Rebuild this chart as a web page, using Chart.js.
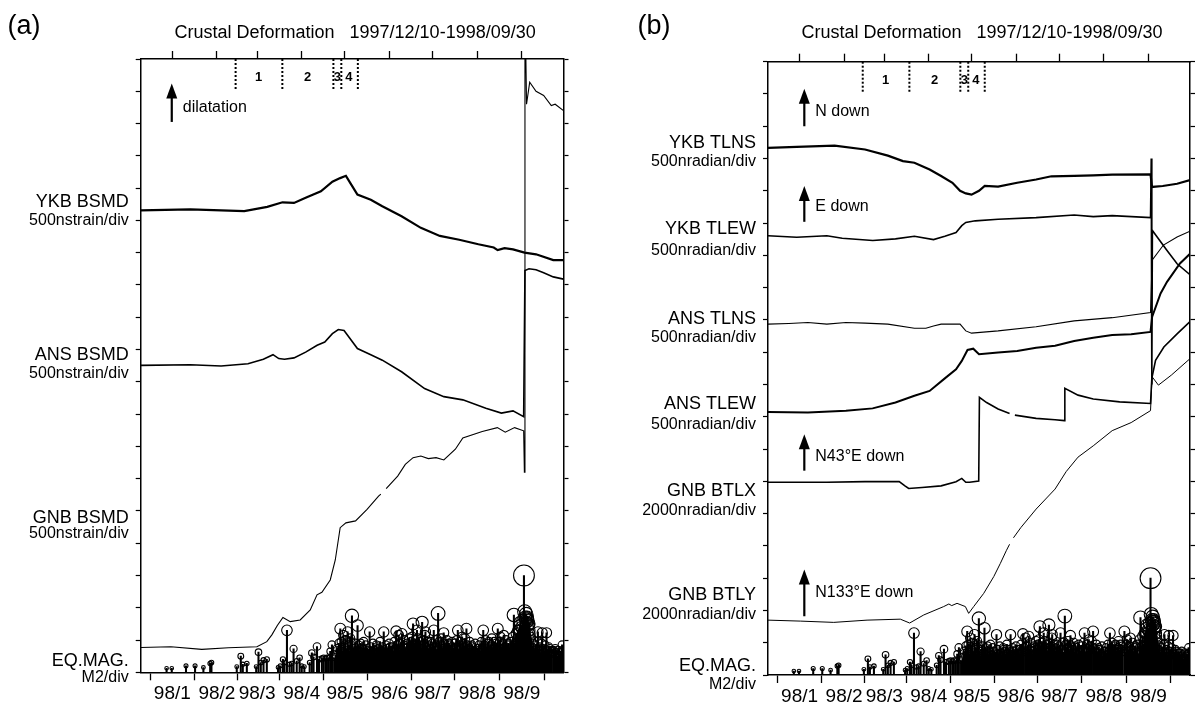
<!DOCTYPE html>
<html>
<head>
<meta charset="utf-8">
<script src="https://cdn.jsdelivr.net/npm/chart.js@4.4.1/dist/chart.umd.min.js"></script>
<style>
  html, body { margin: 0; padding: 0; background: #fff; }
  #wrap { position: relative; width: 1197px; height: 707px; overflow: hidden; }
  canvas { position: absolute; top: 0; }
</style>
</head>
<body>
<div id="wrap">
  <canvas id="chartA" width="598" height="707" style="left:0"></canvas>
  <canvas id="chartB" width="597" height="707" style="left:600px"></canvas>
</div>
<script>
// time axis: days since 1997/12/10, y axis: divisions above the bottom frame
const titleText = "Crustal Deformation   1997/12/10-1998/09/30";
const monthDays = [22, 53, 81, 112, 142, 173, 203, 234, 265];
const monthLabels = ["98/1", "98/2", "98/3", "98/4", "98/5", "98/6", "98/7", "98/8", "98/9"];
const periodDays = [66, 98.5, 134, 139.5, 151];
const periodNames = ["1", "2", "3", "4"];
const periodNameDays = [82, 116, 136.8, 144.8];

// (a) volumetric strain
const ykbBsmd = [[0,14.31],[34.5,14.34],[72,14.29],[88,14.42],[98.6,14.56],[106.6,14.54],[114.7,14.7],[125.3,14.9],
  [133.3,15.2],[138.7,15.31],[142.7,15.38],[150.7,14.8],[160,14.64],[168,14.44],[181.4,14.13],[194.8,13.77],[208,13.52],
  [221.5,13.4],[234.8,13.26],[245.5,13.16],[248.2,13.08],[253,13.14],[258.9,13.1],[266.9,13.0],[274.9,12.95],[286.9,12.77],[294,12.77]];
const ansBsmd = [[0,9.51],[34.5,9.53],[55.9,9.49],[74.6,9.56],[85.3,9.7],[92,9.84],[96,9.72],[100,9.7],[106.6,9.74],[114.7,9.92],
  [122.7,10.13],[128,10.23],[133.3,10.49],[137.4,10.62],[141.4,10.59],[150.7,10.03],[160,9.84],[168,9.67],[181.4,9.31],
  [197.4,8.79],[210.8,8.54],[224,8.44],[240,8.18],[250.8,8.03],[258.9,8.1],[266.3,7.92],[267.2,12.45],[270,12.5],
  [274.9,12.47],[280.2,12.38],[286.9,12.25],[294,12.18]];
const gnbBsmd = [[0,0.77],[21,0.79],[42.5,0.71],[61,0.76],[80.8,0.79],[87.7,0.95],[91.2,1.16],[95,1.45],[98.9,1.7],[104,1.57],
  [110.9,1.62],[117.9,1.93],[122.6,2.4],[126,2.48],[131.8,2.86],[135.3,3.48],[138.7,4.48],[142.7,4.63],[149.4,4.69],
  [157.4,5.05],[165.4,5.46],[167,5.52],[168,null],[170.7,5.69],[178.7,6.08],[184,6.44],[189.4,6.65],[194.8,6.7],[200,6.62],
  [205.4,6.65],[210.8,6.58],[218.8,6.91],[224,7.26],[237.5,7.46],[248,7.58],[253.5,7.44],[260,7.58],[266.3,7.48],
  [266.8,6.2],[267.2,21],[268.3,17.6],[270.5,18.28],[274.9,18.0],[280.2,17.87],[285.5,17.56],[288.2,17.6],[294,17.4]];

// (b) tilt
const ykbTlns = [[0,16.33],[20,16.36],[46.4,16.4],[67.6,16.28],[83.5,16.09],[94,15.92],[102,15.87],[112.6,15.66],[120.6,15.46],
  [128.5,15.25],[133.8,15.0],[137.8,14.92],[141.8,14.88],[147,15.0],[151,15.15],[160.3,15.13],[173.6,15.25],[186.8,15.35],
  [197.4,15.45],[213.3,15.46],[226.6,15.48],[239.8,15.5],[266.5,15.51],[267.5,15.12],[275,15.15],[285,15.22],[294,15.33]];
const ykbTlew = [[0,13.61],[20,13.56],[41,13.61],[51.7,13.53],[73,13.46],[88.8,13.51],[102,13.59],[115.3,13.49],[123.2,13.59],
  [131,13.71],[135,13.92],[137.8,14.02],[144.4,14.07],[160.3,14.12],[186.8,14.17],[213.3,14.25],[226.6,14.2],[239.8,14.23],
  [266.5,14.17],[267,16.0],[267.4,9.0],[267.8,13.77],[278,13.15],[285,12.74],[294,12.4]];
const ansTlns = [[0,10.87],[14.6,10.89],[27.8,10.92],[41,10.87],[54.3,10.92],[67.6,10.9],[83.5,10.87],[102,10.74],[110,10.74],
  [115.3,10.81],[120.6,10.87],[133.8,10.87],[137.8,10.66],[141.8,10.59],[160.3,10.66],[186.8,10.79],[213.3,10.97],
  [239.8,11.07],[266.5,11.23],[267.6,12.85],[275.5,13.32],[285,13.57],[294,13.75]];
const ansTlew = [[0,8.15],[27.8,8.13],[54.3,8.19],[72.9,8.26],[88.8,8.44],[102,8.65],[112.6,8.8],[123.2,9.19],[131,9.47],
  [135,9.73],[139,10.07],[143,10.11],[147,9.94],[160.3,9.99],[173.6,10.04],[186.8,10.14],[200,10.2],[213.3,10.35],
  [226.6,10.45],[239.8,10.53],[253,10.56],[266.5,10.63],[267.6,11.09],[273.5,11.82],[278,12.18],[287,12.75],[294,13.05]];
const gnbBtlx = [[0,5.97],[41,5.97],[67.6,5.99],[91.4,5.99],[95.4,5.86],[98,5.78],[107.3,5.81],[120.6,5.86],[131,5.99],
  [135,6.09],[137.8,5.97],[140.4,5.97],[146.8,6.01],[147.3,8.6],[152.3,8.44],[160.3,8.24],[168.3,8.1],[169.5,null],
  [172,8.05],[186.8,7.95],[200,7.91],[206.5,7.88],[206.8,8.88],[216,8.67],[226.6,8.55],[245,8.46],[266.5,8.41],
  [267.4,9.19],[270,9.75],[275.8,10.16],[285,10.57],[294,10.95]];
const gnbBtly = [[0,1.7],[22.5,1.67],[45.8,1.63],[69,1.7],[92.2,1.73],[98.7,1.61],[108.5,1.86],[122.4,2.12],[126,2.2],[128,2.15],
  [131.7,2.22],[137.5,2.12],[139.8,1.91],[143.3,2.12],[150.3,2.53],[157.3,3.05],[161.9,3.46],[166,3.85],[168.3,4.05],
  [169.3,null],[171,4.25],[176.2,4.57],[186.8,5.14],[200,5.76],[207.7,6.3],[216,6.75],[226.6,7.1],[239.8,7.57],[253,7.82],
  [266.5,8.19],[267.6,9.24],[272,8.98],[281,9.29],[294,9.8]];

// earthquakes: [day, magnitude]
const eqMag = [
  [18,0.25],[21.6,0.25],[31.5,0.4],[37.8,0.4],[43.6,0.3],[48.3,0.55],[49.2,0.6],[66.8,0.35],[69.6,1.0],[71,0.5],[73.8,0.55],
  [80.3,0.35],[81.9,1.25],[83.5,0.6],[85.4,0.75],[87.7,0.8],[95.5,0.3],[97,0.4],[98.9,0.8],[100,0.6],[101.7,2.6],[103.5,0.5],
  [105,0.55],[106.3,1.45],[108.5,0.7],[110.5,0.9],[112,0.4],[113.8,0.35],[117.5,0.6],[119,1.2],[120.2,0.95],[122.6,1.6],
  [124,0.8],[126,0.85],[127.2,0.9],[128.5,0.85],[129.5,0.9],[130.7,0.9],[131.8,1.3],[133,1.7],[134.5,0.9],[135.5,1.0],
  [136.5,1.5],[137.2,1.2],[137.8,1.8],[138.3,1.4],[138.8,2.7],[139.5,1.9],[140.2,1.3],[141,2.3],[141.6,1.6],[142.3,2.0],
  [143.2,1.4],[143.9,2.5],[144.5,1.7],[145.1,1.3],[145.7,2.1],[146.2,1.9],[146.9,3.5],[147.6,1.5],[148.3,1.2],[149,1.6],
  [149.4,1.8],[150.1,1.4],[150.8,2.9],[151.5,1.7],[152.2,1.3],[153,1.8],[153.8,1.2],[154.4,1.5],[155,1.9],[155.8,1.3],
  [156.5,1.7],[157.3,1.5],[158,1.4],[158.6,1.2],[159.2,2.5],[160,1.6],[160.8,1.3],[161.5,1.8],[162.3,1.4],[163.1,1.2],
  [163.8,1.7],[164.2,1.6],[165,1.5],[165.7,1.3],[166.4,1.9],[167.2,1.4],[168.1,1.6],[169,2.5],[169.8,1.3],[170.5,1.7],
  [171.3,1.5],[172,1.2],[172.7,1.8],[173.3,1.6],[174,1.4],[174.8,1.6],[175.5,1.3],[176.3,1.9],[177,1.5],[177.6,2.55],
  [178.3,1.7],[179.4,2.3],[179.9,1.4],[180.6,1.8],[181.7,2.4],[182.4,1.6],[183.1,2.0],[183.9,1.5],[184.5,1.3],[185.2,1.8],
  [185.9,1.7],[186.6,2.1],[187.3,1.6],[188,1.9],[188.7,2.2],[189.4,3.0],[190.2,1.8],[190.9,2.0],[191.5,1.6],[192.1,2.6],
  [192.8,2.1],[193.5,1.7],[194.2,1.9],[194.9,1.5],[195.7,3.1],[196.4,2.0],[197.1,1.8],[197.6,2.3],[198,2.5],[198.6,1.6],
  [199.3,1.9],[200,1.4],[200.7,1.7],[201.4,1.9],[202.1,1.5],[202.8,1.8],[203.8,2.6],[204.5,1.6],[205.2,2.0],[206,1.4],
  [206.8,3.65],[207.5,1.9],[208.2,1.7],[209,2.1],[209.7,1.5],[210.7,2.45],[211.5,1.8],[212.2,1.6],[213,2.0],[213.6,1.4],
  [214.2,1.8],[215,1.7],[215.8,1.3],[216.5,1.9],[217.1,1.5],[217.7,1.5],[218.4,1.8],[219.2,1.6],[219.8,2.0],[220.5,2.6],
  [221.3,1.4],[222,1.9],[222.7,1.5],[223.5,2.2],[224.2,1.8],[224.9,1.6],[225.6,2.1],[226.5,2.7],[227.2,1.7],[228,1.5],
  [228.8,1.9],[229.6,1.4],[230.4,1.7],[231.1,1.6],[231.9,1.3],[232.6,1.8],[233.2,1.2],[233.9,1.5],[234.6,1.5],[235.3,1.7],
  [236.1,1.3],[236.9,1.9],[237.5,1.5],[238.2,2.6],[239,1.7],[239.7,2.0],[240.5,1.6],[241.3,1.8],[242,1.9],[242.8,1.4],
  [243.5,1.7],[244.2,2.1],[245,1.5],[245.7,1.9],[246.4,1.6],[247.1,1.8],[248.3,2.7],[249,1.4],[249.6,1.9],[250.1,2.2],
  [251,1.5],[251.7,1.8],[252.5,2.3],[253.3,1.6],[254,2.0],[254.8,1.4],[255.4,1.7],[256,1.8],[256.8,1.5],[257.5,1.9],
  [258.3,1.3],[258.9,2.2],[259.5,3.55],[260.3,1.8],[261,2.4],[261.7,1.9],[262.3,2.6],[263,2.6],[263.6,2.9],[264,3.1],
  [264.6,2.8],[265.2,2.7],[265.8,3.2],[266,2.5],[266.5,6.0],[267,3.75],[267.4,3.4],[267.7,3.3],[268,3.6],[268.3,3.1],
  [268.6,3.4],[268.9,3.3],[269.2,3.2],[269.5,2.9],[269.8,3.0],[270.1,3.0],[270.5,2.6],[270.8,2.4],[271.2,2.2],[271.6,2.0],
  [272.2,1.6],[272.9,1.8],[273.5,1.4],[273.8,1.3],[274.5,1.7],[275.2,1.5],[275.8,1.9],[276.2,2.5],[276.8,1.4],[277.5,1.6],
  [278.3,1.2],[278.9,1.8],[279.2,2.45],[279.8,1.5],[280.5,1.3],[281.2,1.7],[282.2,2.45],[282.8,1.4],[283.2,1.2],[283.8,1.6],
  [284.5,1.5],[285.2,1.1],[285.9,1.4],[286.9,1.4],[287.5,1.2],[288.2,1.5],[288.9,1.3],[289.6,1.0],[290.3,1.4],[291,1.1],
  [291.7,1.3],[292.4,1.2],[293,1.7],[293.6,1.4]
];

// station labels (name, scale)
const labelsA = [["YKB BSMD", "500nstrain/div"], ["ANS BSMD", "500nstrain/div"], ["GNB BSMD", "500nstrain/div"], ["EQ.MAG.", "M2/div"]];
const labelsB = [["YKB TLNS", "500nradian/div"], ["YKB TLEW", "500nradian/div"], ["ANS TLNS", "500nradian/div"],
  ["ANS TLEW", "500nradian/div"], ["GNB BTLX", "2000nradian/div"], ["GNB BTLY", "2000nradian/div"], ["EQ.MAG.", "M2/div"]];
const arrowTextA = ["dilatation"];
const arrowTextB = ["N down", "E down", "N43\u00b0E down", "N133\u00b0E down"];

const FONT = '"Liberation Sans", Arial, Helvetica, sans-serif';
const toXY = (pts) => pts.map(([d, k]) => ({ x: d, y: k }));

const annotate = {
  id: "annotate",
  afterDraw(chart, args, o) {
    const { ctx, chartArea: area, scales } = chart;
    const x = scales.x, y = scales.y;
    ctx.save();
    ctx.fillStyle = "#000";
    ctx.strokeStyle = "#000";
    ctx.textBaseline = "middle";
    ctx.textAlign = "center";
    ctx.font = "27px " + FONT;
    ctx.fillText(o.tag, o.tagX, 27);
    ctx.font = "18px " + FONT;
    ctx.fillText(titleText, (area.left + area.right) / 2 + 3, 33);
    ctx.font = "bold 13px " + FONT;
    periodNames.forEach((t, i) => {
      ctx.fillText(t, x.getPixelForValue(periodNameDays[i]), y.getPixelForValue(18.42));
    });
    ctx.textAlign = "right";
    o.labels.forEach((l, i) => {
      ctx.font = "18px " + FONT;
      ctx.fillText(l[0], area.left - 12, y.getPixelForValue(o.labelPos[i][0]));
      ctx.font = "16px " + FONT;
      ctx.fillText(l[1], area.left - 12, y.getPixelForValue(o.labelPos[i][1]));
    });
    ctx.textAlign = "left";
    ctx.font = "16px " + FONT;
    const ax = x.getPixelForValue(o.arrowDay);
    o.arrows.forEach((a, i) => {
      const tip = y.getPixelForValue(a[0]);
      const tail = y.getPixelForValue(a[1]);
      ctx.lineWidth = 2.2;
      ctx.beginPath();
      ctx.moveTo(ax, tail);
      ctx.lineTo(ax, tip + 10);
      ctx.stroke();
      ctx.beginPath();
      ctx.moveTo(ax, tip);
      ctx.lineTo(ax - 5.5, tip + 15);
      ctx.lineTo(ax + 5.5, tip + 15);
      ctx.closePath();
      ctx.fill();
      ctx.fillText(o.arrowText[i], ax + 11, y.getPixelForValue(a[2]));
    });
    ctx.restore();
  }
};

function timeAxis(position, height, showLabels) {
  return {
    type: "linear", position: position, min: 0, max: 294, offset: false,
    afterBuildTicks: (s) => { s.ticks = monthDays.map((v) => ({ value: v })); },
    afterFit: (s) => { s.height = height; },
    border: { display: true, color: "#000", width: 1.5 },
    grid: { display: true, drawOnChartArea: false, drawTicks: true, tickLength: 8, tickWidth: 1.3, tickColor: "#000" },
    ticks: {
      display: showLabels, autoSkip: false, maxRotation: 0, padding: 2, color: "#000",
      font: { family: '"Liberation Sans Narrow", "Arial Narrow", ' + FONT, size: 19 },
      callback: (v) => monthLabels[monthDays.indexOf(v)] ?? ""
    }
  };
}

function divAxis(position, width) {
  return {
    type: "linear", position: position, min: 0, max: 19,
    afterFit: (s) => { s.width = width; },
    border: { display: true, color: "#000", width: 1.5 },
    grid: { display: true, drawOnChartArea: false, drawTicks: true, tickLength: 5, tickWidth: 1.2, tickColor: "#000" },
    ticks: { display: false, stepSize: 1 }
  };
}

function buildChart(id, series, padding, o) {
  const datasets = series.map((s) => ({
    type: "line", data: toXY(s.data), borderColor: "#000", borderWidth: s.width,
    pointRadius: 0, tension: 0, spanGaps: false, xAxisID: "x", yAxisID: "y"
  }));
  periodDays.forEach((d) => {
    datasets.push({
      type: "line", data: [{ x: d, y: 19 }, { x: d, y: 18.05 }], borderColor: "#000", borderWidth: 2,
      borderDash: [2, 2], pointRadius: 0, xAxisID: "x", yAxisID: "y"
    });
  });
  const eq = eqMag.map(([d, m]) => ({ x: d, y: m / 2 }));
  datasets.push({
    type: "bar", data: eq, backgroundColor: "#000", barThickness: 1.4, xAxisID: "x", yAxisID: "y"
  });
  datasets.push({
    type: "line", data: eq, showLine: false, pointStyle: "circle",
    pointRadius: (c) => 1.4 + 3 * c.raw.y, pointBorderWidth: 1.1, pointBorderColor: "#000",
    pointBackgroundColor: "rgba(0,0,0,0)", xAxisID: "x", yAxisID: "y"
  });
  return new Chart(document.getElementById(id), {
    type: "line",
    data: { datasets: datasets },
    options: {
      responsive: false, animation: false, events: [],
      layout: { padding: padding },
      plugins: { legend: { display: false }, tooltip: { enabled: false }, annotate: o },
      scales: {
        x: timeAxis("bottom", 30, true),
        x2: timeAxis("top", 10, false),
        y: divAxis("left", 6),
        y2: divAxis("right", 6)
      }
    },
    plugins: [annotate]
  });
}

buildChart("chartA",
  [{ data: ykbBsmd, width: 2.2 }, { data: ansBsmd, width: 1.6 }, { data: gnbBsmd, width: 1.1 }],
  { left: 134.7, right: 28.5, top: 49, bottom: 4.7 },
  {
    tag: "(a)", tagX: 24,
    labels: labelsA, labelPos: [[14.56, 14.0], [9.84, 9.26], [4.79, 4.3], [0.36, -0.17]],
    arrowDay: 21.6, arrowText: arrowTextA, arrows: [[18.24, 17.05, 17.5]]
  });

buildChart("chartB",
  [{ data: ykbTlns, width: 2.2 }, { data: ykbTlew, width: 1.6 }, { data: ansTlns, width: 1.1 },
   { data: ansTlew, width: 2.0 }, { data: gnbBtlx, width: 1.6 }, { data: gnbBtly, width: 1.0 }],
  { left: 162, right: 1, top: 51.7, bottom: 2 },
  {
    tag: "(b)", tagX: 54,
    labels: labelsB,
    labelPos: [[16.48, 15.89], [13.82, 13.16], [11.04, 10.45], [8.39, 7.77], [5.71, 5.09], [2.49, 1.87], [0.28, -0.3]],
    arrowDay: 25.3, arrowText: arrowTextB,
    arrows: [[18.16, 17.0, 17.44], [15.15, 14.04, 14.51], [7.46, 6.33, 6.76], [3.27, 1.82, 2.54]]
  });
</script>
</body>
</html>
